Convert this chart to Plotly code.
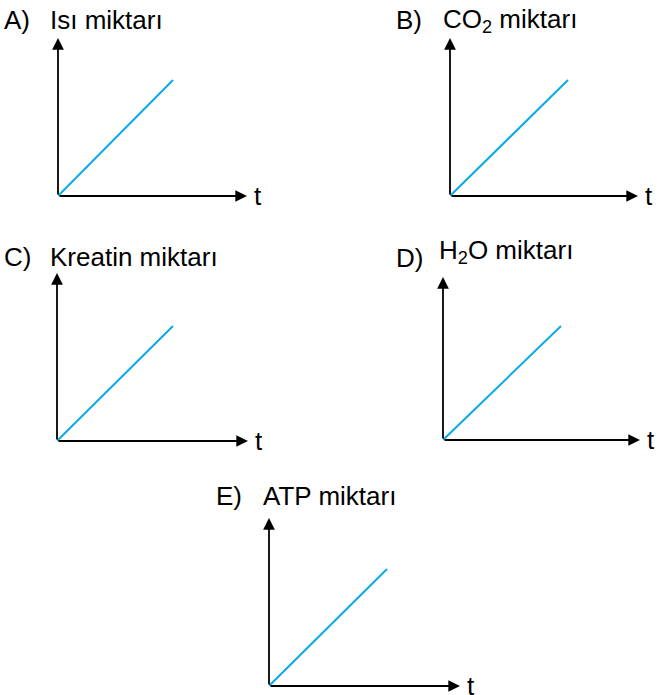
import plotly.graph_objects as go

# ---- data ----
panel_letters = ["A)", "B)", "C)", "D)", "E)"]
panel_titles = ["Isı miktarı", "CO<sub>2</sub> miktarı", "Kreatin miktarı",
                "H<sub>2</sub>O miktarı", "ATP miktarı"]
t_values = [0, 1]
series_values = {
    "A": [0, 1],
    "B": [0, 1],
    "C": [0, 1],
    "D": [0, 1],
    "E": [0, 1],
}
x_axis_label = "t"

# ---- layout (pixel geometry of each panel) ----
W, H = 659, 695
# origin x, origin y, x-arrow tip, y-arrow top, line end x, line end y
geom = {
    "A": (58, 196, 247, 38, 173, 80),
    "B": (450, 196, 638, 38, 568, 80),
    "C": (57, 441, 248, 273, 173, 326),
    "D": (443, 440, 640, 277, 561, 326),
    "E": (269, 686, 460, 518, 387, 569),
}
# letter pos (x_left, baseline), title pos (x_left, baseline)
label_pos = {
    "A": ((4, 29), (50, 29)),
    "B": ((396, 29), (443, 29)),
    "C": ((4, 266), (50, 266)),
    "D": ((396, 267), (439, 260)),
    "E": ((216, 505), (263, 505)),
}

LINE_COLOR = "#0AAAE6"
FONT = "Liberation Sans, Arial, sans-serif"
FS = 26

fig = go.Figure()
layout = dict(
    width=W, height=H, margin=dict(l=0, r=0, t=0, b=0),
    plot_bgcolor="white", paper_bgcolor="white", showlegend=False,
)
annotations = []

def px_to_paper_x(px):
    return px / W

def px_to_paper_y(py):
    return 1 - py / H

for i, key in enumerate(["A", "B", "C", "D", "E"]):
    n = i + 1
    xa = "x" if n == 1 else f"x{n}"
    ya = "y" if n == 1 else f"y{n}"
    xk = "xaxis" if n == 1 else f"xaxis{n}"
    yk = "yaxis" if n == 1 else f"yaxis{n}"
    ox, oy, xt, yt, ex, ey = geom[key]
    xmax = t_values[-1] * (xt - ox) / (ex - ox)
    ymax = series_values[key][-1] * (oy - yt) / (oy - ey)
    layout[xk] = dict(domain=[px_to_paper_x(ox), px_to_paper_x(xt)], range=[0, xmax],
                      visible=False, anchor=ya, fixedrange=True)
    layout[yk] = dict(domain=[px_to_paper_y(oy), px_to_paper_y(yt)], range=[0, ymax],
                      visible=False, anchor=xa, fixedrange=True)
    fig.add_trace(go.Scatter(x=t_values, y=series_values[key], mode="lines",
                             line=dict(color=LINE_COLOR, width=2),
                             xaxis=xa, yaxis=ya, hoverinfo="skip", cliponaxis=False))
    # axis arrows
    for tip in [(xmax, 0), (0, ymax)]:
        annotations.append(dict(
            x=tip[0], y=tip[1], ax=0, ay=0, xref=xa, yref=ya, axref=xa, ayref=ya,
            text="", showarrow=True, arrowhead=2, arrowsize=1.3, arrowwidth=1.8,
            arrowcolor="black", standoff=0, startstandoff=0))
    # t label
    annotations.append(dict(
        x=px_to_paper_x(xt + 5), y=px_to_paper_y(oy), xref="paper", yref="paper",
        text=x_axis_label, showarrow=False, xanchor="left", yanchor="middle",
        font=dict(family=FONT, size=FS, color="black")))
    (lx, lb), (tx, tb) = label_pos[key]
    annotations.append(dict(
        x=px_to_paper_x(lx), y=px_to_paper_y(lb - 9), xref="paper", yref="paper",
        text=panel_letters[i], showarrow=False, xanchor="left", yanchor="middle",
        xshift=-2, font=dict(family=FONT, size=FS, color="black")))
    annotations.append(dict(
        x=px_to_paper_x(tx), y=px_to_paper_y(tb - 9), xref="paper", yref="paper",
        text=panel_titles[i], showarrow=False, xanchor="left", yanchor="middle",
        xshift=-2, font=dict(family=FONT, size=FS, color="black")))

layout["annotations"] = annotations
fig.update_layout(**layout)
fig.write_html("out.html", config={"displayModeBar": False},
               post_script="document.body.style.margin='0';document.body.style.overflow='hidden';")
